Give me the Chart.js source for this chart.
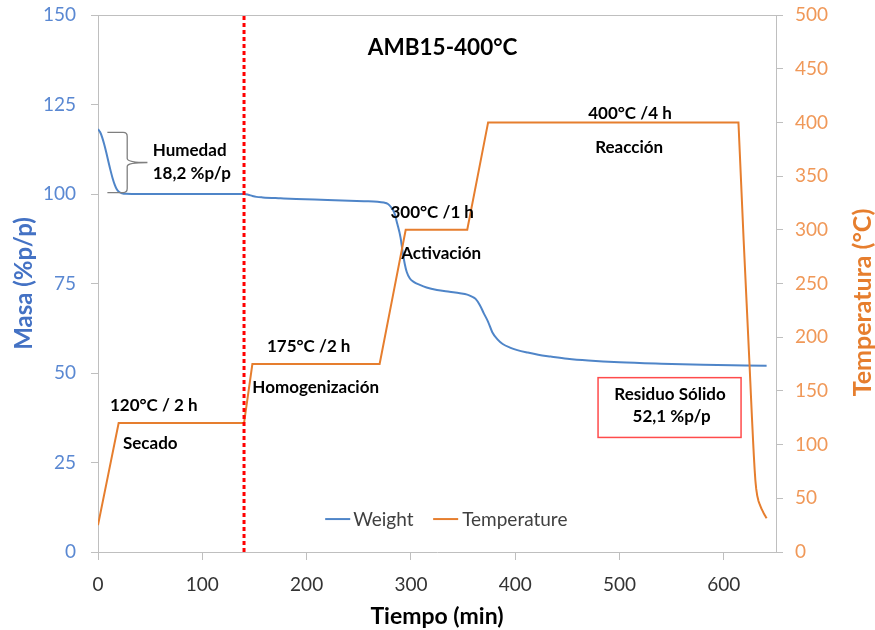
<!DOCTYPE html>
<html>
<head>
<meta charset="utf-8">
<script src="https://cdn.jsdelivr.net/npm/chart.js@4.4.0/dist/chart.umd.min.js"></script>
<style>
  html, body { margin: 0; padding: 0; background: #ffffff; }
  canvas { display: block; }
</style>
</head>
<body>
<canvas id="tga" width="875" height="630"></canvas>
<script>
// Mass loss curve (time in min, mass in %p/p)
const timeWeight = [0, 2, 4, 6, 8, 10, 12, 14, 16, 18, 20, 23, 27, 40, 80, 120, 140, 144, 148, 152, 158, 175, 190, 220, 255, 268, 274, 278, 281, 284, 287, 290, 292, 294, 296, 299, 303, 308, 315, 325, 337, 347, 354, 358, 362, 366, 370, 374, 378, 383, 388, 395, 402, 412, 422, 434, 450, 470, 500, 540, 580, 620, 641];
const weightPct  = [118.1, 117.3, 115.8, 113.8, 111.5, 109.0, 106.6, 104.4, 102.6, 101.3, 100.6, 100.2, 100.05, 100.0, 100.0, 100.0, 100.0, 99.8, 99.45, 99.2, 99.05, 98.8, 98.6, 98.35, 98.0, 97.85, 97.6, 97.2, 96.3, 94.8, 91.6, 87.9, 84.0, 80.6, 78.2, 76.4, 75.4, 74.7, 73.9, 73.2, 72.7, 72.3, 71.9, 71.4, 70.7, 69.0, 66.6, 64.3, 61.4, 59.4, 58.1, 57.1, 56.4, 55.7, 55.1, 54.6, 54.0, 53.5, 53.0, 52.6, 52.3, 52.1, 52.0];

// Furnace temperature programme (time in min, temperature in °C)
const timeTemp = [0, 19.8, 140, 148, 270, 295, 354, 374, 614, 619, 624.7, 626, 627, 628, 628.8, 629.5, 630.2, 631, 632, 633.2, 634.5, 636, 638, 640, 641];
const tempC    = [25, 120, 120, 175, 175, 300, 300, 400, 400, 290, 173, 145, 124, 104, 89, 77, 67, 59, 52.5, 47.5, 44, 40.5, 36.5, 33, 31.5];

// Boundary between drying and homogenisation stages
const stageBoundary = 140;

// Axis ranges and tick labels
const timeTicks = [0, 100, 200, 300, 400, 500, 600];
const timeMax = 650;
const massTicks = [0, 25, 50, 75, 100, 125, 150];
const tempTicks = [0, 50, 100, 150, 200, 250, 300, 350, 400, 450, 500];

// Text notes placed in data coordinates (x: min, y: %p/p)
const notes = [
  { text: 'AMB15-400°C',    x: 330.4, y: 141.1, size: 22.5 },
  { text: 'Humedad',        x: 52.5,  y: 112.4, align: 'left' },
  { text: '18,2 %p/p',      x: 52.5,  y: 106.0, align: 'left' },
  { text: '120°C / 2 h',    x: 53.5,  y: 41.1 },
  { text: 'Secado',         x: 50.1,  y: 30.5 },
  { text: '175°C /2 h',     x: 202,   y: 57.6 },
  { text: 'Homogenización', x: 208.7, y: 46.2 },
  { text: '300°C /1 h',     x: 320.4, y: 94.9 },
  { text: 'Activación',     x: 329,   y: 83.5 },
  { text: '400°C /4 h',     x: 510,   y: 122.6 },
  { text: 'Reacción',       x: 509.2, y: 113.2 },
  { text: 'Residuo Sólido', x: 548.4, y: 44.2 },
  { text: '52,1 %p/p',      x: 549.9, y: 37.9 }
];
const residueBox = { x0: 479.4, x1: 616.5, y0: 32.0, y1: 48.7 };
const moistureBrace = { x0: 9, x1: 28, tip: 47.4, top: 117.2, bottom: 100.4 };

const FONT = "Lato, 'Liberation Sans', sans-serif";
const BLUE = '#4F85C8';
const ORANGE = '#E67E2E';
const AXIS = '#BFBFBF';

const weightPoints = timeWeight.map((t, i) => ({ x: t, y: weightPct[i] }));
const tempPoints = timeTemp.map((t, i) => ({ x: t, y: tempC[i] }));

// keep tick labels from pushing the plot area inwards
function noLabelPadding(s) {
  s.paddingTop = 0;
  s.paddingBottom = 0;
  s.paddingLeft = 0;
  s.paddingRight = 0;
}

const notesPlugin = {
  id: 'notes',
  afterDatasetsDraw(chart) {
    const { ctx, chartArea: a, scales } = chart;
    const sx = scales.x, sy = scales.y;
    ctx.save();

    // frame line along the top of the plot
    ctx.strokeStyle = AXIS;
    ctx.lineWidth = 1;
    ctx.beginPath();
    ctx.moveTo(a.left, Math.round(a.top) + 0.5);
    ctx.lineTo(a.right, Math.round(a.top) + 0.5);
    ctx.stroke();

    // curly brace marking the moisture loss
    const bx0 = sx.getPixelForValue(moistureBrace.x0);
    const bx1 = sx.getPixelForValue(moistureBrace.x1);
    const btip = sx.getPixelForValue(moistureBrace.tip);
    const bt = sy.getPixelForValue(moistureBrace.top);
    const bb = sy.getPixelForValue(moistureBrace.bottom);
    const bm = (bt + bb) / 2;
    const r = 4;
    ctx.strokeStyle = '#7F7F7F';
    ctx.lineWidth = 1.3;
    ctx.beginPath();
    ctx.moveTo(bx0, bt);
    ctx.lineTo(bx1 - r, bt);
    ctx.quadraticCurveTo(bx1, bt, bx1, bt + r);
    ctx.lineTo(bx1, bm - r);
    ctx.quadraticCurveTo(bx1, bm, btip, bm);
    ctx.quadraticCurveTo(bx1, bm, bx1, bm + r);
    ctx.lineTo(bx1, bb - r);
    ctx.quadraticCurveTo(bx1, bb, bx1 - r, bb);
    ctx.lineTo(bx0, bb);
    ctx.stroke();

    // box around the residue note
    const rx0 = sx.getPixelForValue(residueBox.x0);
    const rx1 = sx.getPixelForValue(residueBox.x1);
    const ry0 = sy.getPixelForValue(residueBox.y1);
    const ry1 = sy.getPixelForValue(residueBox.y0);
    ctx.strokeStyle = '#FF4B4B';
    ctx.lineWidth = 1.5;
    ctx.strokeRect(rx0, ry0, rx1 - rx0, ry1 - ry0);

    // bold notes
    ctx.fillStyle = '#000000';
    ctx.textBaseline = 'alphabetic';
    notes.forEach(n => {
      const size = n.size || 17;
      ctx.font = 'bold ' + size + 'px ' + FONT;
      ctx.textAlign = n.align || 'center';
      ctx.fillText(n.text, sx.getPixelForValue(n.x), sy.getPixelForValue(n.y) + size * 0.36);
    });

    // legend
    const legendY = sy.getPixelForValue(9.2);
    const items = [
      { label: 'Weight', color: BLUE, x0: 217.8, x1: 241.8, tx: 244.6 },
      { label: 'Temperature', color: ORANGE, x0: 321.3, x1: 345.3, tx: 349.1 }
    ];
    ctx.font = '19px ' + FONT;
    ctx.textAlign = 'left';
    items.forEach(it => {
      ctx.strokeStyle = it.color;
      ctx.lineWidth = 2;
      ctx.beginPath();
      ctx.moveTo(sx.getPixelForValue(it.x0), legendY);
      ctx.lineTo(sx.getPixelForValue(it.x1), legendY);
      ctx.stroke();
      ctx.fillStyle = '#404040';
      ctx.fillText(it.label, sx.getPixelForValue(it.tx), legendY + 6.8);
    });

    ctx.restore();
  },
  afterDraw(chart) {
    // secondary axis title, reading bottom to top
    const { ctx, chartArea: a } = chart;
    ctx.save();
    ctx.translate(863, (a.top + a.bottom) / 2 + 19);
    ctx.rotate(-Math.PI / 2);
    ctx.font = 'bold 25px ' + FONT;
    ctx.fillStyle = ORANGE;
    ctx.textAlign = 'center';
    ctx.textBaseline = 'middle';
    ctx.fillText('Temperatura (°C)', 0, 0);
    ctx.restore();
  }
};

new Chart(document.getElementById('tga'), {
  type: 'scatter',
  data: {
    datasets: [
      {
        label: 'stage',
        data: [{ x: stageBoundary, y: massTicks[0] }, { x: stageBoundary, y: massTicks[massTicks.length - 1] }],
        showLine: true,
        borderColor: '#FF0000',
        borderWidth: 3,
        borderDash: [4, 3],
        pointRadius: 0,
        yAxisID: 'y'
      },
      {
        label: 'Temperature',
        data: tempPoints,
        showLine: true,
        borderColor: ORANGE,
        borderWidth: 2,
        pointRadius: 0,
        // a tiny tension keeps straight ramps but avoids the per-pixel fast path on the steep cooling tail
        tension: 0.0001,
        yAxisID: 'y2'
      },
      {
        label: 'Weight',
        data: weightPoints,
        showLine: true,
        borderColor: BLUE,
        borderWidth: 2,
        pointRadius: 0,
        cubicInterpolationMode: 'monotone',
        yAxisID: 'y'
      }
    ]
  },
  options: {
    responsive: false,
    animation: false,
    devicePixelRatio: 1,
    layout: { padding: { top: 15, left: 0, right: 0, bottom: 0 } },
    plugins: { legend: { display: false }, tooltip: { enabled: false } },
    scales: {
      x: {
        type: 'linear',
        min: 0,
        max: timeMax,
        afterBuildTicks: s => { s.ticks = timeTicks.map(v => ({ value: v })); },
        afterFit: s => { s.height = 78; noLabelPadding(s); },
        ticks: { font: { family: FONT, size: 19 }, color: '#333333', padding: 13, maxRotation: 0 },
        grid: { drawOnChartArea: false, tickLength: 8, color: AXIS },
        border: { color: AXIS },
        title: {
          display: true, text: 'Tiempo (min)', color: '#000000',
          font: { family: FONT, size: 23, weight: 'bold' }, padding: { top: 0, bottom: 0 }
        }
      },
      y: {
        position: 'left',
        min: 0,
        max: 150,
        afterBuildTicks: s => { s.ticks = massTicks.map(v => ({ value: v })); },
        afterFit: s => { s.width = 98; noLabelPadding(s); },
        ticks: { font: { family: FONT, size: 19 }, color: '#5A88D2', padding: 15 },
        grid: { drawOnChartArea: false, tickLength: 7, color: AXIS },
        border: { color: AXIS },
        title: {
          display: true, text: 'Masa (%p/p)', color: '#4472C4',
          font: { family: FONT, size: 24, weight: 'bold' }, padding: { top: 10, bottom: 0 }
        }
      },
      y2: {
        position: 'right',
        min: 0,
        max: 500,
        afterBuildTicks: s => { s.ticks = tempTicks.map(v => ({ value: v })); },
        afterFit: s => { s.width = 99; noLabelPadding(s); },
        ticks: { font: { family: FONT, size: 19 }, color: '#F09858', padding: 12 },
        grid: { drawOnChartArea: false, tickLength: 7, color: AXIS },
        border: { color: AXIS }
      }
    }
  },
  plugins: [notesPlugin]
});
</script>
</body>
</html>
